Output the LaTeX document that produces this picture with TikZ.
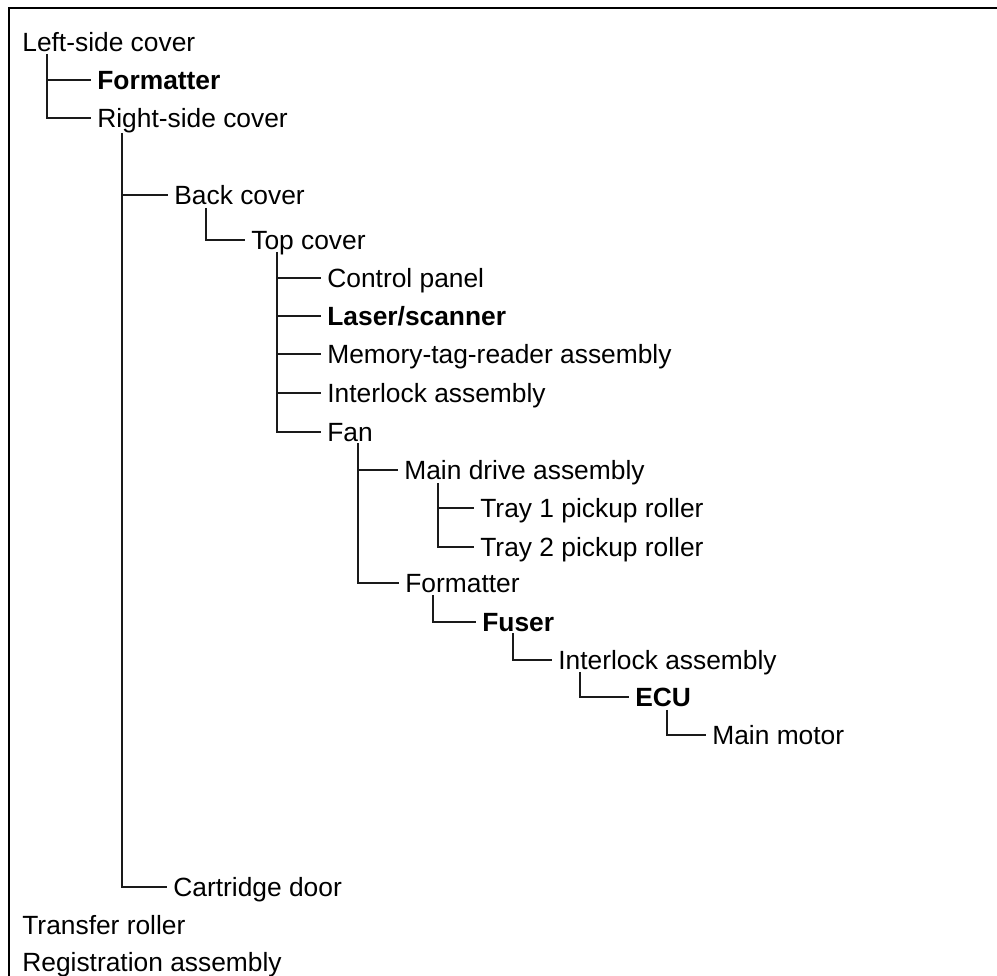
\documentclass[tikz,border=0pt]{standalone}
\usepackage{fontspec}
\setmainfont{Liberation Sans}
\usepackage{xcolor}
\usepackage{tikz}
\definecolor{TreeLine}{HTML}{1A1A1A}

\tikzset{
  part/.style={anchor=west,inner sep=0pt,text height=0.37cm,text depth=0pt,font=\fontsize{15}{18}\selectfont},
  keypart/.style={part,font=\fontsize{15}{18}\selectfont\bfseries},
  branch/.style={draw=TreeLine,line width=0.8pt,shorten >=0.12cm}
}

\begin{document}
\begin{tikzpicture}[x=1cm,y=1cm]
\path[use as bounding box] (0,0) rectangle (19.94,19.52);
\draw[line width=1pt] (19.94,19.36) -- (0.18,19.36) -- (0.18,0);
\node[part] (lsc) at (0.44,18.68) {Left-side cover};
\node[keypart] (fmtA) at (1.94,17.92) {Formatter};
\node[part] (rsc) at (1.94,17.16) {Right-side cover};
\node[part] (back) at (3.48,15.62) {Back cover};
\node[part] (top) at (5.02,14.72) {Top cover};
\node[part] (ctrl) at (6.54,13.96) {Control panel};
\node[keypart] (laser) at (6.54,13.20) {Laser/scanner};
\node[part] (memtag) at (6.54,12.44) {Memory-tag-reader assembly};
\node[part] (ilockA) at (6.54,11.66) {Interlock assembly};
\node[part] (fan) at (6.54,10.88) {Fan};
\node[part] (drive) at (8.08,10.12) {Main drive assembly};
\node[part] (tray1) at (9.60,9.36) {Tray 1 pickup roller};
\node[part] (tray2) at (9.60,8.58) {Tray 2 pickup roller};
\node[part] (fmtB) at (8.10,7.86) {Formatter};
\node[keypart] (fuser) at (9.64,7.08) {Fuser};
\node[part] (ilockB) at (11.16,6.32) {Interlock assembly};
\node[keypart] (ecu) at (12.70,5.58) {ECU};
\node[part] (motor) at (14.24,4.82) {Main motor};
\node[part] (cart) at (3.46,1.78) {Cartridge door};
\node[part] (transfer) at (0.44,1.02) {Transfer roller};
\node[part] (reg) at (0.44,0.28) {Registration assembly};
% vertical stems under each parent
\coordinate (vLsc) at ([shift={(0.50,-0.24)}]lsc.west);
\coordinate (vRsc) at ([shift={(0.50,-0.30)}]rsc.west);
\coordinate (vBack) at ([shift={(0.64,-0.26)}]back.west);
\coordinate (vTop) at ([shift={(0.52,-0.24)}]top.west);
\coordinate (vFan) at ([shift={(0.62,-0.22)}]fan.west);
\coordinate (vDrive) at ([shift={(0.68,-0.26)}]drive.west);
\coordinate (vFmt) at ([shift={(0.56,-0.24)}]fmtB.west);
\coordinate (vFuser) at ([shift={(0.62,-0.22)}]fuser.west);
\coordinate (vIlock) at ([shift={(0.44,-0.24)}]ilockB.west);
\coordinate (vEcu) at ([shift={(0.64,-0.26)}]ecu.west);
\draw[branch] (vLsc) |- (rsc.west);
\draw[branch] (vLsc |- fmtA.west) -- (fmtA.west);
\draw[branch] (vRsc) |- (cart.west);
\draw[branch] (vRsc |- back.west) -- (back.west);
\draw[branch] (vBack) |- (top.west);
\draw[branch] (vTop) |- (fan.west);
\draw[branch] (vTop |- ctrl.west) -- (ctrl.west);
\draw[branch] (vTop |- laser.west) -- (laser.west);
\draw[branch] (vTop |- memtag.west) -- (memtag.west);
\draw[branch] (vTop |- ilockA.west) -- (ilockA.west);
\draw[branch] (vFan) |- (fmtB.west);
\draw[branch] (vFan |- drive.west) -- (drive.west);
\draw[branch] (vDrive) |- (tray2.west);
\draw[branch] (vDrive |- tray1.west) -- (tray1.west);
\draw[branch] (vFmt) |- (fuser.west);
\draw[branch] (vFuser) |- (ilockB.west);
\draw[branch] (vIlock) |- (ecu.west);
\draw[branch] (vEcu) |- (motor.west);
\end{tikzpicture}
\end{document}
